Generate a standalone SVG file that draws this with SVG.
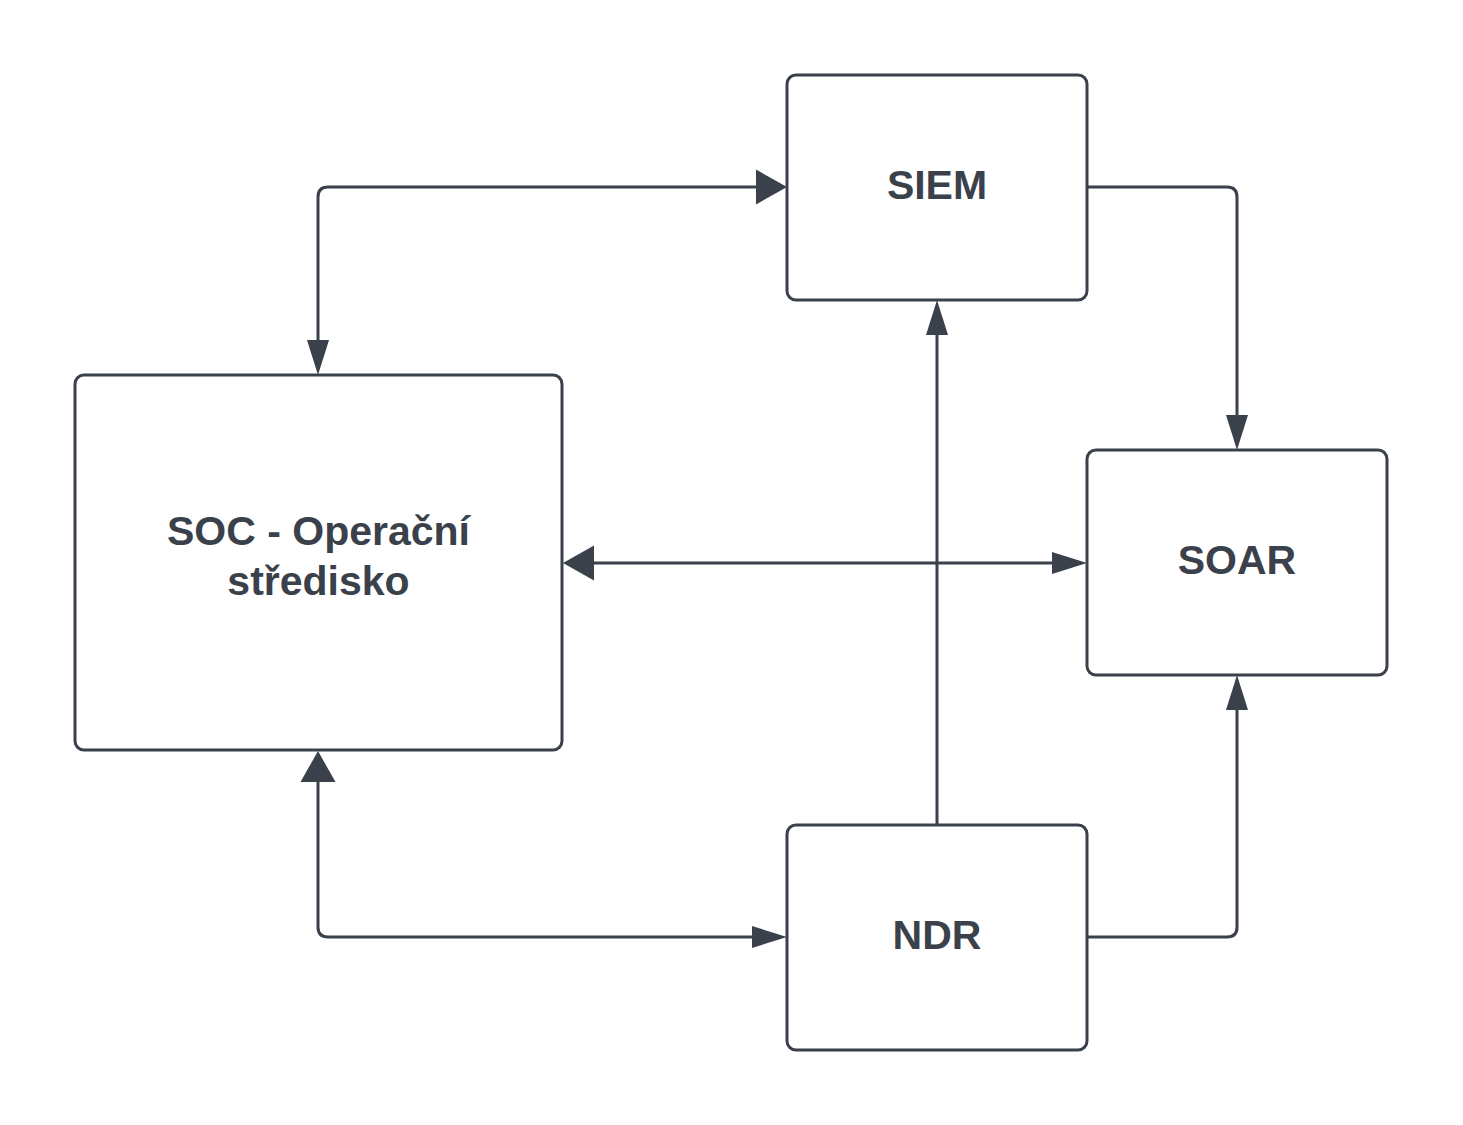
<svg xmlns="http://www.w3.org/2000/svg" width="1463" height="1125" viewBox="0 0 1463 1125">
<style>
.box{fill:#ffffff;stroke:#3a414a;stroke-width:3}
.lbl{font-family:"Liberation Sans",Arial,sans-serif;font-weight:bold;font-size:41px;fill:#3a414a;text-anchor:middle}
.conn{fill:none;stroke:#3a414a;stroke-width:3}
</style>
<defs>
<marker id="wide" markerUnits="userSpaceOnUse" markerWidth="32" markerHeight="36" refX="0" refY="17.5" orient="auto-start-reverse" overflow="visible">
<path d="M0,0 L31,17.5 L0,35 Z" fill="#3a414a"/>
</marker>
<marker id="narrow" markerUnits="userSpaceOnUse" markerWidth="36" markerHeight="23" refX="0" refY="11" orient="auto-start-reverse" overflow="visible">
<path d="M0,0 L35,11 L0,22 Z" fill="#3a414a"/>
</marker>
</defs>
<rect width="1463" height="1125" fill="#ffffff"/>
<g id="connectors">
<path class="conn" d="M318,340 V197 Q318,187 328,187 H756" marker-start="url(#narrow)" marker-end="url(#wide)"/>
<path class="conn" d="M1087,187 H1227 Q1237,187 1237,197 V415" marker-end="url(#narrow)"/>
<path class="conn" d="M1087,937 H1227 Q1237,937 1237,927 V710" marker-end="url(#narrow)"/>
<path class="conn" d="M937,825 V335" marker-end="url(#narrow)"/>
<path class="conn" d="M594,563 H1052" marker-start="url(#wide)" marker-end="url(#narrow)"/>
<path class="conn" d="M318,782 V927 Q318,937 328,937 H752" marker-start="url(#wide)" marker-end="url(#narrow)"/>
</g>
<g id="siem">
<rect class="box" x="787" y="75" width="300" height="225" rx="9"/>
<text class="lbl" x="937" y="199">SIEM</text>
</g>
<g id="soc">
<rect class="box" x="75" y="375" width="487" height="375" rx="9"/>
<text class="lbl" x="318.5" y="545">SOC - Operační</text>
<text class="lbl" x="318.5" y="595">středisko</text>
</g>
<g id="soar">
<rect class="box" x="1087" y="450" width="300" height="225" rx="9"/>
<text class="lbl" x="1237" y="574">SOAR</text>
</g>
<g id="ndr">
<rect class="box" x="787" y="825" width="300" height="225" rx="9"/>
<text class="lbl" x="937" y="949">NDR</text>
</g>
</svg>
